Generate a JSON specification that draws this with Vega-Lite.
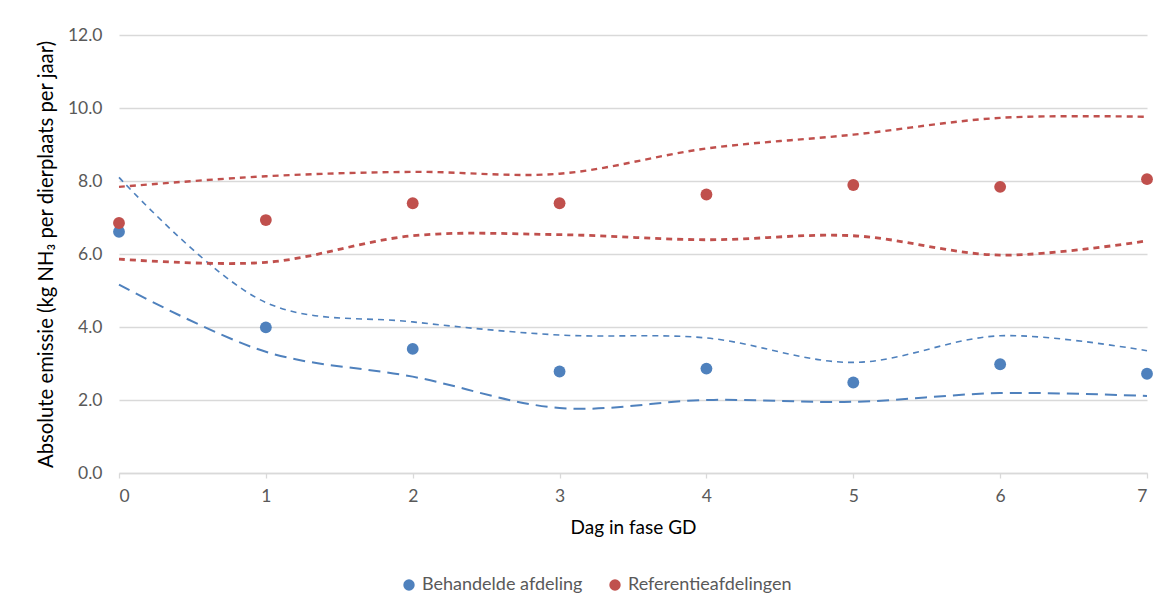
{
  "$schema": "https://vega.github.io/schema/vega-lite/v6.json",
  "width": 1028,
  "height": 438,
  "autosize": "none",
  "padding": {"left": 119, "top": 35, "right": 19, "bottom": 138},
  "background": "white",
  "config": {
    "font": "Lato",
    "view": {"stroke": null},
    "axis": {
      "labelFont": "Lato",
      "labelFontSize": 17.5,
      "labelColor": "#595959",
      "titleFont": "Lato",
      "titleFontWeight": "normal",
      "titleColor": "#000000",
      "gridColor": "#d9d9d9",
      "gridWidth": 1.3,
      "domainColor": "#d9d9d9",
      "tickColor": "#d9d9d9"
    }
  },
  "resolve": {"legend": {"color": "independent"}},
  "datasets": {
    "gemiddeld": [
      {"dag": 0, "afdeling": "Behandelde afdeling", "emissie": 6.61},
      {"dag": 1, "afdeling": "Behandelde afdeling", "emissie": 3.99},
      {"dag": 2, "afdeling": "Behandelde afdeling", "emissie": 3.40},
      {"dag": 3, "afdeling": "Behandelde afdeling", "emissie": 2.78},
      {"dag": 4, "afdeling": "Behandelde afdeling", "emissie": 2.86},
      {"dag": 5, "afdeling": "Behandelde afdeling", "emissie": 2.48},
      {"dag": 6, "afdeling": "Behandelde afdeling", "emissie": 2.98},
      {"dag": 7, "afdeling": "Behandelde afdeling", "emissie": 2.72},
      {"dag": 0, "afdeling": "Referentieafdelingen", "emissie": 6.85},
      {"dag": 1, "afdeling": "Referentieafdelingen", "emissie": 6.93},
      {"dag": 2, "afdeling": "Referentieafdelingen", "emissie": 7.39},
      {"dag": 3, "afdeling": "Referentieafdelingen", "emissie": 7.39},
      {"dag": 4, "afdeling": "Referentieafdelingen", "emissie": 7.63},
      {"dag": 5, "afdeling": "Referentieafdelingen", "emissie": 7.89},
      {"dag": 6, "afdeling": "Referentieafdelingen", "emissie": 7.84},
      {"dag": 7, "afdeling": "Referentieafdelingen", "emissie": 8.05}
    ],
    "grenzen": [
      {"dag": 0, "afdeling": "Behandelde afdeling", "lijn": "B-boven", "emissie": 8.10},
      {"dag": 1, "afdeling": "Behandelde afdeling", "lijn": "B-boven", "emissie": 4.67},
      {"dag": 2, "afdeling": "Behandelde afdeling", "lijn": "B-boven", "emissie": 4.14},
      {"dag": 3, "afdeling": "Behandelde afdeling", "lijn": "B-boven", "emissie": 3.78},
      {"dag": 4, "afdeling": "Behandelde afdeling", "lijn": "B-boven", "emissie": 3.70},
      {"dag": 5, "afdeling": "Behandelde afdeling", "lijn": "B-boven", "emissie": 3.03},
      {"dag": 6, "afdeling": "Behandelde afdeling", "lijn": "B-boven", "emissie": 3.76},
      {"dag": 7, "afdeling": "Behandelde afdeling", "lijn": "B-boven", "emissie": 3.35},
      {"dag": 0, "afdeling": "Behandelde afdeling", "lijn": "B-onder", "emissie": 5.16},
      {"dag": 1, "afdeling": "Behandelde afdeling", "lijn": "B-onder", "emissie": 3.32},
      {"dag": 2, "afdeling": "Behandelde afdeling", "lijn": "B-onder", "emissie": 2.64},
      {"dag": 3, "afdeling": "Behandelde afdeling", "lijn": "B-onder", "emissie": 1.78},
      {"dag": 4, "afdeling": "Behandelde afdeling", "lijn": "B-onder", "emissie": 2.00},
      {"dag": 5, "afdeling": "Behandelde afdeling", "lijn": "B-onder", "emissie": 1.95},
      {"dag": 6, "afdeling": "Behandelde afdeling", "lijn": "B-onder", "emissie": 2.19},
      {"dag": 7, "afdeling": "Behandelde afdeling", "lijn": "B-onder", "emissie": 2.11},
      {"dag": 0, "afdeling": "Referentieafdelingen", "lijn": "R-boven", "emissie": 7.84},
      {"dag": 1, "afdeling": "Referentieafdelingen", "lijn": "R-boven", "emissie": 8.13},
      {"dag": 2, "afdeling": "Referentieafdelingen", "lijn": "R-boven", "emissie": 8.25},
      {"dag": 3, "afdeling": "Referentieafdelingen", "lijn": "R-boven", "emissie": 8.20},
      {"dag": 4, "afdeling": "Referentieafdelingen", "lijn": "R-boven", "emissie": 8.89},
      {"dag": 5, "afdeling": "Referentieafdelingen", "lijn": "R-boven", "emissie": 9.27},
      {"dag": 6, "afdeling": "Referentieafdelingen", "lijn": "R-boven", "emissie": 9.73},
      {"dag": 7, "afdeling": "Referentieafdelingen", "lijn": "R-boven", "emissie": 9.76},
      {"dag": 0, "afdeling": "Referentieafdelingen", "lijn": "R-onder", "emissie": 5.86},
      {"dag": 1, "afdeling": "Referentieafdelingen", "lijn": "R-onder", "emissie": 5.77},
      {"dag": 2, "afdeling": "Referentieafdelingen", "lijn": "R-onder", "emissie": 6.50},
      {"dag": 3, "afdeling": "Referentieafdelingen", "lijn": "R-onder", "emissie": 6.53},
      {"dag": 4, "afdeling": "Referentieafdelingen", "lijn": "R-onder", "emissie": 6.39},
      {"dag": 5, "afdeling": "Referentieafdelingen", "lijn": "R-onder", "emissie": 6.50},
      {"dag": 6, "afdeling": "Referentieafdelingen", "lijn": "R-onder", "emissie": 5.97},
      {"dag": 7, "afdeling": "Referentieafdelingen", "lijn": "R-onder", "emissie": 6.36}
    ]
  },
  "encoding": {
    "x": {
      "field": "dag",
      "type": "quantitative",
      "scale": {"domain": [0, 7], "nice": false, "zero": false},
      "axis": {
        "values": [0, 1, 2, 3, 4, 5, 6, 7],
        "format": "d",
        "grid": false,
        "domainWidth": 1.3,
        "tickSize": 5,
        "tickWidth": 1.3,
        "labelPadding": 9,
        "title": "Dag in fase GD",
        "titleFontSize": 19,
        "titlePadding": 14
      }
    },
    "y": {
      "field": "emissie",
      "type": "quantitative",
      "scale": {"domain": [0, 12], "nice": false},
      "axis": {
        "values": [0, 2, 4, 6, 8, 10, 12],
        "format": ".1f",
        "domain": false,
        "ticks": false,
        "labelPadding": 17,
        "title": "Absolute  emissie (kg NH₃ per dierplaats per jaar)",
        "titleFontSize": 20.3,
        "titlePadding": 11
      }
    }
  },
  "layer": [
    {
      "data": {"name": "grenzen"},
      "mark": {"type": "line", "interpolate": "catmull-rom"},
      "encoding": {
        "detail": {"field": "lijn"},
        "color": {
          "field": "afdeling",
          "type": "nominal",
          "scale": {"domain": ["Behandelde afdeling", "Referentieafdelingen"], "range": ["#4f81bd", "#c0504d"]},
          "legend": null
        },
        "strokeWidth": {
          "field": "lijn",
          "type": "nominal",
          "scale": {"domain": ["B-boven", "B-onder", "R-boven", "R-onder"], "range": [1.6, 2.8, 1.6, 1.6]},
          "legend": null
        },
        "strokeDash": {
          "field": "lijn",
          "type": "nominal",
          "scale": {"domain": ["B-boven", "B-onder", "R-boven", "R-onder"], "range": [[6, 5], [12, 7], [6, 5], [6, 5]]},
          "legend": null
        }
      }
    },
    {
      "data": {"name": "gemiddeld"},
      "mark": {"type": "point", "shape": "circle", "filled": true, "opacity": 1, "size": 140},
      "encoding": {
        "color": {
          "field": "afdeling",
          "type": "nominal",
          "scale": {"domain": ["Behandelde afdeling", "Referentieafdelingen"], "range": ["#4f81bd", "#c0504d"]},
          "legend": {
            "title": null,
            "orient": "none",
            "direction": "horizontal",
            "legendX": 281,
            "legendY": 541,
            "symbolType": "circle",
            "symbolSize": 130,
            "symbolOpacity": 1,
            "labelFont": "Lato",
            "labelFontSize": 18,
            "labelLimit": 400,
            "labelColor": "#595959",
            "labelOffset": 4,
            "columnPadding": 23
          }
        }
      }
    }
  ]
}
